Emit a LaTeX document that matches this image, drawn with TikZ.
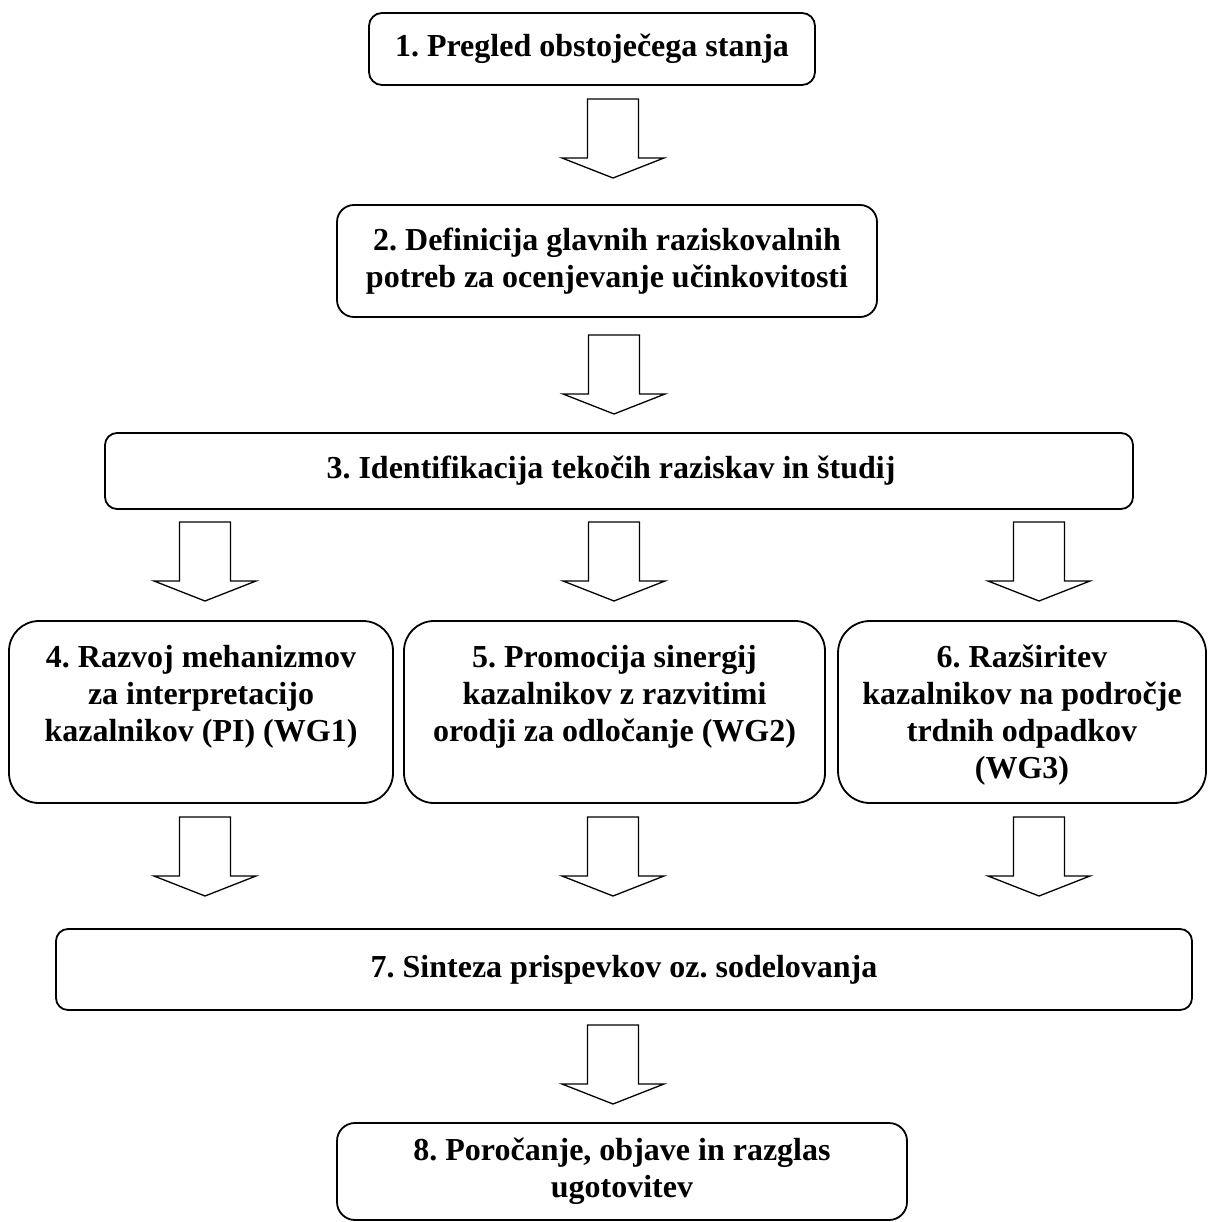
\documentclass[tikz,border=0pt]{standalone}
\usepackage{fontspec}
\setmainfont{Liberation Serif}
\frenchspacing
\begin{document}
\begin{tikzpicture}[x=1pt,y=-1pt,
  box/.style={draw, line width=1.8pt, inner sep=0pt, align=center,
    font=\fontsize{32pt}{36.8pt}\selectfont\bfseries},
  txt/.style={inner sep=0pt, align=center,
    font=\fontsize{32pt}{36.8pt}\selectfont\bfseries},
  arrowline/.style={draw, line width=1.3pt, line join=miter, fill=white},
  downarrow/.pic={\path[arrowline] (-25.5,0) -- (25.5,0) -- (25.5,59) -- (51,59)
      -- (0,79) -- (-51,59) -- (-25.5,59) -- cycle;}]
\useasboundingbox (0,0) rectangle (1207,1222);

% boxes
\node[box, rounded corners=13pt, minimum width=446pt, minimum height=72pt] (b1) at (592,49)
  {1. Pregled obstoječega stanja};
\node[box, rounded corners=17pt, minimum width=540pt, minimum height=112pt] (b2) at (607,261)
  {2. Definicija glavnih raziskovalnih\\potreb za ocenjevanje učinkovitosti};
\node[box, rounded corners=12pt, minimum width=1028pt, minimum height=76pt] (b3) at (619,471) {};
\node[txt] (t3) at (611,471) {3. Identifikacija tekočih raziskav in študij};
\node[box, rounded corners=30pt, minimum width=384pt, minimum height=182pt] (b4) at (201,712) {};
\node[box, rounded corners=30pt, minimum width=421pt, minimum height=182pt] (b5) at (614.5,712) {};
\node[box, rounded corners=32pt, minimum width=368pt, minimum height=182pt] (b6) at (1022,712) {};
\node[txt, anchor=north] (t4) at (201,645)
  {4. Razvoj mehanizmov\\za interpretacijo\\kazalnikov (PI) (WG1)};
\node[txt, anchor=north] (t5) at (614.5,645)
  {5. Promocija sinergij\\kazalnikov z razvitimi\\orodji za odločanje (WG2)};
\node[txt, anchor=north] (t6) at (1022,645)
  {6. Razširitev\\kazalnikov na področje\\trdnih odpadkov\\(WG3)};
\node[box, rounded corners=12pt, minimum width=1136pt, minimum height=81pt] (b7) at (624,969.5)
  {7. Sinteza prispevkov oz. sodelovanja};
\node[box, rounded corners=18pt, minimum width=570pt, minimum height=97pt] (b8) at (622,1171.5)
  {8. Poročanje, objave in razglas\\ugotovitev};

% block arrows
\pic at (613,99) {downarrow};
\pic at (614,335) {downarrow};
\pic at (205,522) {downarrow};
\pic at (614,522) {downarrow};
\pic at (1039,522) {downarrow};
\pic at (205,817) {downarrow};
\pic at (613,817) {downarrow};
\pic at (1039,817) {downarrow};
\pic at (613,1025) {downarrow};
\end{tikzpicture}
\end{document}
